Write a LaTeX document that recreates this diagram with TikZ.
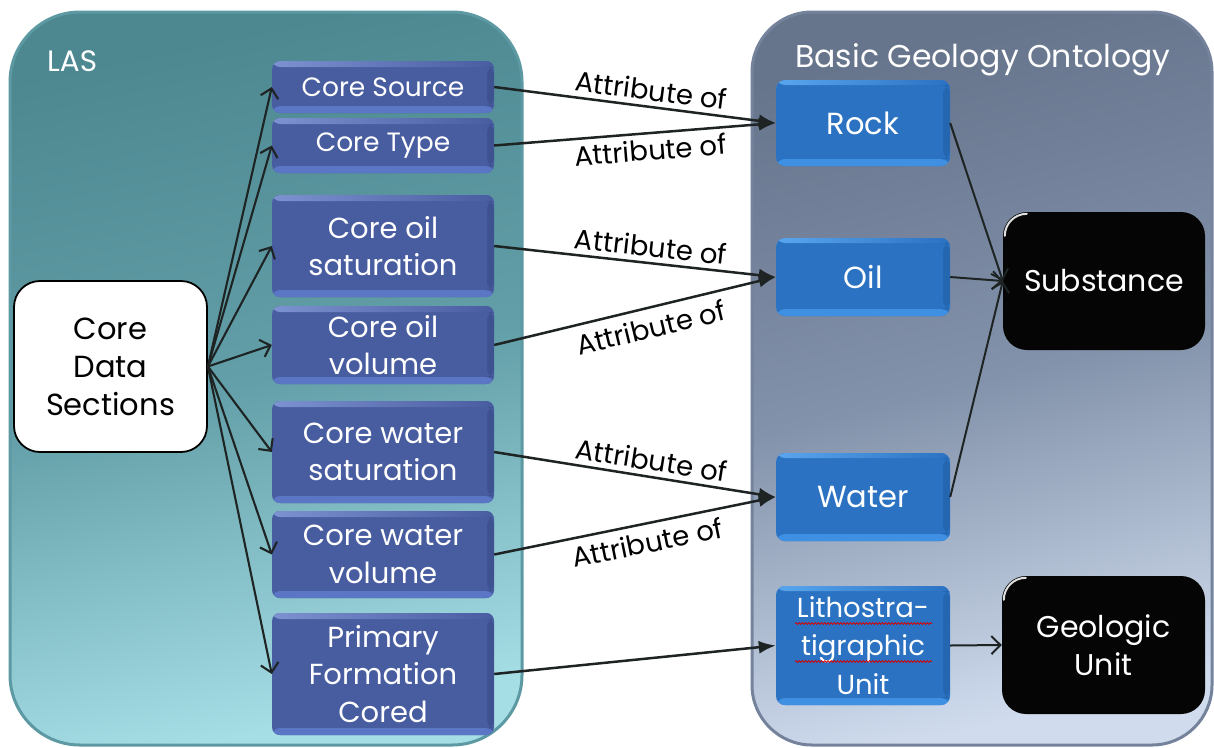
\documentclass[tikz,border=0pt]{standalone}
\usepackage{fontspec}
\setmainfont{Poppins}
\usetikzlibrary{arrows.meta,calc,decorations.pathmorphing}

\definecolor{lasTop}{HTML}{4D8891}
\definecolor{lasMid}{HTML}{639FA8}
\definecolor{lasBot}{HTML}{A6DEE6}
\definecolor{lasEdge}{HTML}{5C99A2}
\definecolor{bgoTop}{HTML}{66748C}
\definecolor{bgoMid}{HTML}{8292AA}
\definecolor{bgoBot}{HTML}{D0DCEE}
\definecolor{bgoEdge}{HTML}{74839B}
\definecolor{purp}{HTML}{485CA0}
\definecolor{purpLight}{HTML}{7D92D0}
\definecolor{purpBot}{HTML}{5C76C6}
\definecolor{purpDark}{HTML}{3E5190}
\definecolor{blu}{HTML}{2B72C2}
\definecolor{bluLight}{HTML}{5AA6EE}
\definecolor{bluBot}{HTML}{3F8FE2}
\definecolor{bluDark}{HTML}{2466B0}
\definecolor{arrowInk}{HTML}{1E2424}

\tikzset{
  panel/.style={rounded corners=#1, line width=3pt},
  purpbox/.style={rounded corners=8pt, fill=purp, text=white, align=center,
    minimum width=222pt, inner sep=0pt,
    font=\fontsize{29}{37.5}\selectfont,
    path picture={
      \fill[purpBot] (path picture bounding box.south west) rectangle ([yshift=7pt]path picture bounding box.south east);
      \shade[left color=purpLight, right color=purp] (path picture bounding box.north west) rectangle ([yshift=-6pt]path picture bounding box.north east);
      \fill[purpDark] ([xshift=-7pt,yshift=-6pt]path picture bounding box.north east) rectangle ([yshift=7pt]path picture bounding box.south east);
    }},
  blubox/.style={rounded corners=9pt, fill=blu, text=white, align=center,
    minimum width=174pt, inner sep=0pt,
    font=\fontsize{30.5}{38.5}\selectfont,
    path picture={
      \fill[bluBot] (path picture bounding box.south west) rectangle ([yshift=7pt]path picture bounding box.south east);
      \shade[left color=bluLight, right color=blu] (path picture bounding box.north west) rectangle ([yshift=-5pt]path picture bounding box.north east);
      \fill[bluDark] ([xshift=-7pt,yshift=-5pt]path picture bounding box.north east) rectangle ([yshift=7pt]path picture bounding box.south east);
    }},
  blkbox/.style={rounded corners=24pt, fill=black!98, text=white, align=center,
    inner sep=0pt, font=\fontsize{30}{38}\selectfont},
  fan/.style={draw=arrowInk, line width=2.1pt, -{Straight Barb[length=9pt,width=18pt,line width=2.1pt]}},
  attr/.style={draw=arrowInk, line width=2.5pt, -{Latex[length=17pt,width=13pt]}},
  link/.style={draw=arrowInk, line width=2pt, -{Straight Barb[length=9pt,width=18pt,line width=2pt]}},
  lbl/.style={font=\fontsize{27.5}{29}\selectfont, text=black, inner sep=2pt},
  paneltitle/.style={text=white, anchor=base west, inner sep=0pt}
}

\begin{document}
\begin{tikzpicture}[x=1pt,y=-1pt]
\useasboundingbox (0,0) rectangle (1214,747);

% LAS panel
\shade[panel=70pt, draw=lasEdge, top color=lasTop, bottom color=lasBot, middle color=lasMid, shading angle=12]
  (10,12) rectangle (522,745);
\node[paneltitle, font=\fontsize{29.5}{31}\selectfont] (lasTitle) at (47,71) {LAS};

% Basic Geology Ontology panel
\shade[panel=60pt, draw=bgoEdge, top color=bgoTop, bottom color=bgoBot, middle color=bgoMid, shading angle=14]
  (752,12) rectangle (1212,745);
\node[paneltitle, font=\fontsize{31.5}{33}\selectfont, anchor=base] (bgoTitle) at (983,67) {Basic Geology Ontology};

% source node
\node[draw=black, line width=1.8pt, fill=white, rounded corners=26pt, minimum width=193pt,
      minimum height=171pt, align=center, inner sep=0pt, font=\fontsize{30.5}{38}\selectfont]
  (cds) at (110.5,366.5) {Core\\Data\\Sections};

% LAS attributes
\node[purpbox, minimum height=52pt, font=\fontsize{26.5}{30}\selectfont] (cs)  at (383,87)    {Core Source};
\node[purpbox, minimum height=55pt, font=\fontsize{26.5}{30}\selectfont] (ct)  at (383,145.5) {Core Type};
\node[purpbox, minimum height=102pt] (cos) at (383,246)   {Core oil\\saturation};
\node[purpbox, minimum height=78pt]  (cov) at (383,345)   {Core oil\\volume};
\node[purpbox, minimum height=102pt] (cws) at (383,452)   {Core water\\saturation};
\node[purpbox, minimum height=87pt]  (cwv) at (383,554.5) {Core water\\volume};
\node[purpbox, minimum height=122pt] (pfc) at (383,674)   {Primary\\Formation\\Cored};

% ontology classes
\node[blubox, minimum height=86pt]  (rock)  at (863,123)   {Rock};
\node[blubox, minimum height=78pt]  (oil)   at (863,277)   {Oil};
\node[blubox, minimum height=88pt]  (water) at (863,497)   {Water};
\node[blubox, minimum height=119pt, font=\fontsize{27.5}{38.5}\selectfont] (litho) at (863,645.5) {Lithostra-\\tigraphic\\Unit};
\node[blkbox, minimum width=202pt, minimum height=138pt] (subst) at (1104,281) {Substance};
\node[blkbox, minimum width=203pt, minimum height=138pt] (geo)   at (1103.5,645) {Geologic\\Unit};

% glossy rim on the dark boxes
\foreach \b in {subst,geo}
  \draw[white!75!gray, line width=2pt, line cap=round]
    ([yshift=-24pt]\b.north west) ++(2,0) arc[start angle=180, end angle=90, radius=22pt];

% spell-check marks under the hyphenated word
\draw[red!85!black, line width=0.8pt, decorate, decoration={snake, amplitude=0.9pt, segment length=3.2pt}]
  ($(litho.center)+(-68,-22)$) -- ($(litho.center)+(69,-22)$);
\draw[red!85!black, line width=0.8pt, decorate, decoration={snake, amplitude=0.9pt, segment length=3.2pt}]
  ($(litho.center)+(-68,16)$) -- ($(litho.center)+(69,16)$);

% fan of sections
\foreach \t in {cs,ct,cos,cov,cws,cwv,pfc}
  \path[fan] (cds.east) -- (\t.west);

% attribute links
\path[attr] (cs.east)  -- node[lbl, pos=0.55, sloped, above=3pt] {Attribute of} (rock.west);
\path[attr] (ct.east)  -- node[lbl, pos=0.55, sloped, below=3pt] {Attribute of} (rock.west);
\path[attr] (cos.east) -- node[lbl, pos=0.55, sloped, above=3pt] {Attribute of} (oil.west);
\path[attr] (cov.east) -- node[lbl, pos=0.54, sloped, below=6pt] {Attribute of} (oil.west);
\path[attr] (cws.east) -- node[lbl, pos=0.55, sloped, above=3pt] {Attribute of} (water.west);
\path[attr] (cwv.east) -- node[lbl, pos=0.53, sloped, below=5pt] {Attribute of} (water.west);
\path[attr] (pfc.east) -- (litho.west);

% ontology links
\path[link] (rock.east)  -- (subst.west);
\path[link] (oil.east)   -- (subst.west);
\path[link] (water.east) -- (subst.west);
\path[link] (litho.east) -- (geo.west);
\end{tikzpicture}
\end{document}
